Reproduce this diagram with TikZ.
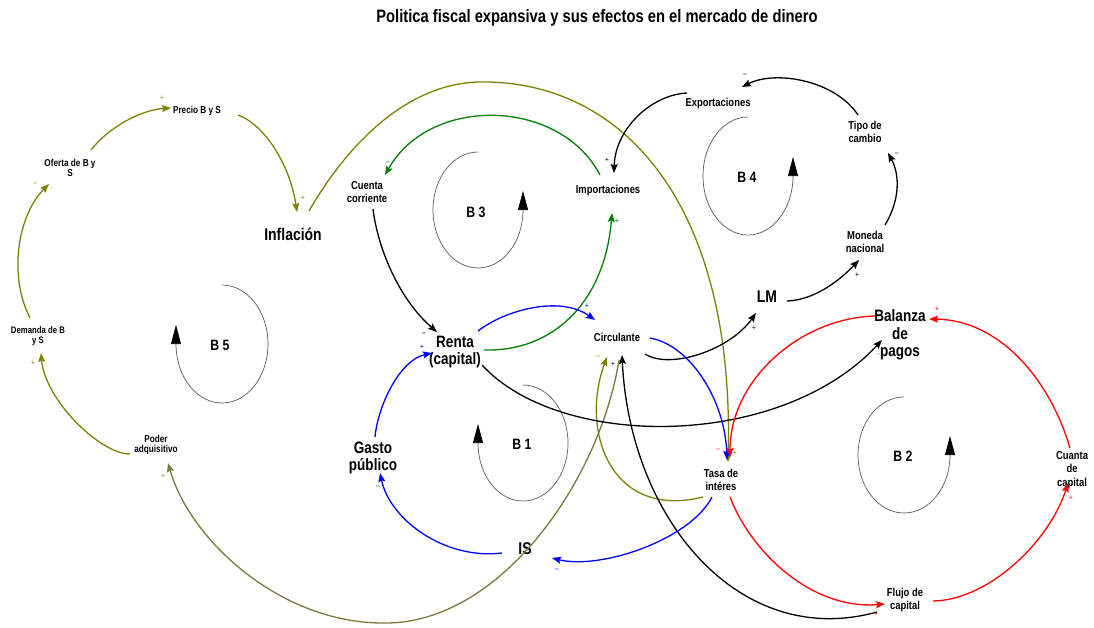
\documentclass[tikz,border=0pt]{standalone}
\usepackage{fontspec}
\setmainfont{Liberation Sans}[FakeStretch=0.82]
\usetikzlibrary{arrows.meta}
\definecolor{oliveA}{RGB}{128,128,0}
\definecolor{oliveB}{RGB}{122,122,62}
\definecolor{greenA}{RGB}{0,128,0}
\definecolor{blueA}{RGB}{0,0,255}
\definecolor{redA}{RGB}{255,0,0}
\definecolor{loopgray}{RGB}{90,90,90}
\begin{document}
\begin{tikzpicture}[x=1pt,y=-1pt,
  lbl/.style={font=\bfseries\fontsize{10}{10.5}\selectfont, align=center, inner sep=0pt},
  mid/.style={font=\bfseries\fontsize{11.5}{13.5}\selectfont, align=center, inner sep=0pt},
  big/.style={font=\bfseries\fontsize{16.5}{17.5}\selectfont, align=center, inner sep=0pt},
  loopname/.style={font=\bfseries\fontsize{15}{15}\selectfont, inner sep=0pt},
  sgn/.style={font=\fontsize{8}{8}\selectfont, inner sep=0pt},
  link/.style={line width=1.3pt, -{Stealth[length=9pt,width=7pt,inset=1.5pt]}},
  loopmark/.style={draw=loopgray, line width=0.7pt, -{Triangle[length=19pt,width=10pt,color=black]}}
]
\useasboundingbox[fill=white] (0,0) rectangle (1094,627);

% title
\node[font=\bfseries\fontsize{18}{18}\selectfont, inner sep=0pt] (title) at (597,18) {Politica fiscal expansiva y sus efectos en el mercado de dinero};

% variables
\node[lbl] (precio) at (197,111) {Precio B y S};
\node[lbl] (oferta) at (70,168) {Oferta de B y\\S};
\node[lbl, font=\bfseries\fontsize{9.5}{10.5}\selectfont] (dem) at (38,336) {Demanda de B\\y S};
\node[lbl] (pa) at (156,445) {Poder\\adquisitivo};
\node[big, font=\bfseries\fontsize{17}{17.5}\selectfont] (infl) at (293,234) {Inflación};
\node[mid] (cc) at (367,192) {Cuenta\\corriente};
\node[mid] (imp) at (608,191) {Importaciones};
\node[mid] (exp) at (718,104) {Exportaciones};
\node[mid] (tc) at (865,132) {Tipo de\\cambio};
\node[mid] (mn) at (865,242) {Moneda\\nacional};
\node[big, font=\bfseries\fontsize{17}{17.5}\selectfont] (lm) at (767,297) {LM};
\node[big] (bp) at (900,335) {Balanza\\de\\pagos};
\node[big] (renta) at (455,352) {Renta\\(capital)};
\node[mid] (circ) at (617,337) {Circulante};
\node[mid] (tasa) at (721,480) {Tasa de\\intéres};
\node[big] (gasto) at (373,458) {Gasto\\público};
\node[big, font=\bfseries\fontsize{17}{17.5}\selectfont] (is) at (525,549) {IS};
\node[mid] (flujo) at (905,600) {Flujo de\\capital};
\node[mid] (ck) at (1072,470) {Cuanta\\de\\capital};

% loop markers
\draw[loopmark] (222,285) arc[start angle=90, end angle=-180, x radius=46pt, y radius=59pt] -- ++(0,-19);
\node[loopname] (b5) at (220,345) {B 5};
\draw[loopmark] (478,152) arc[start angle=90, end angle=360, x radius=45pt, y radius=58pt] -- ++(0,-19);
\node[loopname] (b3) at (476,212) {B 3};
\draw[loopmark] (748,117) arc[start angle=90, end angle=360, x radius=45pt, y radius=59pt] -- ++(0,-19);
\node[loopname] (b4) at (747,177) {B 4};
\draw[loopmark] (523,385) arc[start angle=90, end angle=-180, x radius=45pt, y radius=58pt] -- ++(0,-19);
\node[loopname] (b1) at (522,444) {B 1};
\draw[loopmark] (904,397) arc[start angle=90, end angle=360, x radius=46pt, y radius=58pt] -- ++(0,-19);
\node[loopname] (b2) at (903,456) {B 2};

% olive connectors
\draw[link, oliveA] ([shift={(-26,9)}]pa.center) .. controls (100,454) and (45,400) .. ([shift={(3,17)}]dem.center);
\draw[link, oliveA] ([shift={(-8,-18)}]dem.center) .. controls (8,275) and (18,215) .. ([shift={(-21,16)}]oferta.center);
\draw[link, oliveA] ([shift={(21,-18)}]oferta.center) .. controls (108,128) and (140,110) .. ([shift={(-26,-3)}]precio.center);
\draw[link, oliveA] ([shift={(41,4)}]precio.center) .. controls (265,125) and (290,165) .. ([shift={(4,-22)}]infl.center);
\draw[link, oliveA] ([shift={(16,-23)}]infl.center) .. controls (350,140) and (410,83) .. (480,82) .. controls (620,80) and (735,200) .. ([shift={(7,-18)}]tasa.center);
\draw[link, oliveA] ([shift={(-18,17)}]tasa.center) .. controls (610,520) and (580,430) .. ([shift={(-10,20)}]circ.center);
\draw[link, oliveB] ([shift={(2,23)}]circ.center) .. controls (600,480) and (500,625) .. (383,623) .. controls (280,623) and (190,540) .. ([shift={(12,18)}]pa.center);

% black connectors
\draw[link, black] ([shift={(6,17)}]cc.center) .. controls (378,250) and (400,300) .. ([shift={(-18,-20)}]renta.center);
\draw[link, black] ([shift={(-31,-11)}]exp.center) .. controls (650,95) and (615,130) .. ([shift={(6,-18)}]imp.center);
\draw[link, black] ([shift={(-7,-17)}]tc.center) .. controls (835,80) and (775,70) .. ([shift={(24,-17)}]exp.center);
\draw[link, black] ([shift={(20,-17)}]mn.center) .. controls (900,200) and (900,175) .. ([shift={(23,21)}]tc.center);
\draw[link, black] ([shift={(20,4)}]lm.center) .. controls (815,300) and (840,280) .. ([shift={(-6,18)}]mn.center);
\draw[link, black] ([shift={(28,17)}]circ.center) .. controls (670,370) and (730,350) .. ([shift={(-11,16)}]lm.center);
\draw[link, black] ([shift={(27,13)}]renta.center) .. controls (560,450) and (780,450) .. ([shift={(-18,5)}]bp.center);
\draw[link, black] ([shift={(-28,12)}]flujo.center) .. controls (740,650) and (630,520) .. ([shift={(5,18)}]circ.center);

% green connectors
\draw[link, greenA] ([shift={(-8,-16)}]imp.center) .. controls (560,98) and (430,95) .. ([shift={(18,-17)}]cc.center);
\draw[link, greenA] ([shift={(29,-2)}]renta.center) .. controls (555,352) and (605,300) .. ([shift={(4,22)}]imp.center);

% blue connectors
\draw[link, blueA] ([shift={(23,-21)}]renta.center) .. controls (505,310) and (560,295) .. ([shift={(-22,-17)}]circ.center);
\draw[link, blueA] ([shift={(33,1)}]circ.center) .. controls (690,345) and (725,400) .. ([shift={(6,-20)}]tasa.center);
\draw[link, blueA] ([shift={(-9,17)}]tasa.center) .. controls (690,540) and (600,570) .. ([shift={(27,9)}]is.center);
\draw[link, blueA] ([shift={(-23,4)}]is.center) .. controls (445,560) and (390,520) .. ([shift={(7,15)}]gasto.center);
\draw[link, blueA] ([shift={(2,-21)}]gasto.center) .. controls (378,405) and (400,360) .. ([shift={(-23,1)}]renta.center);

% red connectors
\draw[link, redA] ([shift={(-25,-19)}]bp.center) .. controls (800,318) and (730,380) .. ([shift={(9,-23)}]tasa.center);
\draw[link, redA] ([shift={(9,17)}]tasa.center) .. controls (750,550) and (810,610) .. ([shift={(-20,4)}]flujo.center);
\draw[link, redA] ([shift={(28,1)}]flujo.center) .. controls (990,600) and (1050,540) .. ([shift={(-4,13)}]ck.center);
\draw[link, redA] ([shift={(-2,-22)}]ck.center) .. controls (1050,380) and (1000,320) .. ([shift={(29,-16)}]bp.center);

% polarity signs
\node[sgn, text=oliveA] (s1) at (33,363) {+};
\node[sgn, text=oliveA] (s2) at (35,184) {\textendash};
\node[sgn, text=oliveA] (s3) at (162,98) {+};
\node[sgn, text=oliveA] (s4) at (303,198) {+};
\node[sgn, text=oliveA] (s5) at (735,453) {+};
\node[sgn, text=oliveA] (s6) at (598,357) {\textendash};
\node[sgn, text=oliveA] (s7) at (163,476) {+};
\node[sgn] (s8) at (424,334) {\textendash};
\node[sgn] (s9) at (607,160) {+};
\node[sgn] (s10) at (745,75) {\textendash};
\node[sgn] (s11) at (897,154) {\textendash};
\node[sgn] (s12) at (857,275) {+};
\node[sgn] (s13) at (754,328) {+};
\node[sgn, text=gray] (s14) at (879,355) {\textendash};
\node[sgn] (s15) at (613,364) {+};
\node[sgn, text=greenA] (s16) at (388,163) {\textendash};
\node[sgn, text=greenA] (s17) at (617,221) {+};
\node[sgn, text=blueA] (s18) at (587,306) {+};
\node[sgn, text=blueA] (s19) at (727,452) {+};
\node[sgn, text=blueA] (s20) at (557,570) {\textendash};
\node[sgn, text=blueA] (s21) at (378,487) {\textendash};
\node[sgn, text=blueA] (s22) at (422,347) {+};
\node[sgn, text=redA] (s23) at (718,450) {\textendash};
\node[sgn, text=redA] (s24) at (876,614) {+};
\node[sgn, text=redA] (s25) at (1071,498) {+};
\node[sgn, text=redA] (s26) at (937,309) {+};
\end{tikzpicture}
\end{document}
